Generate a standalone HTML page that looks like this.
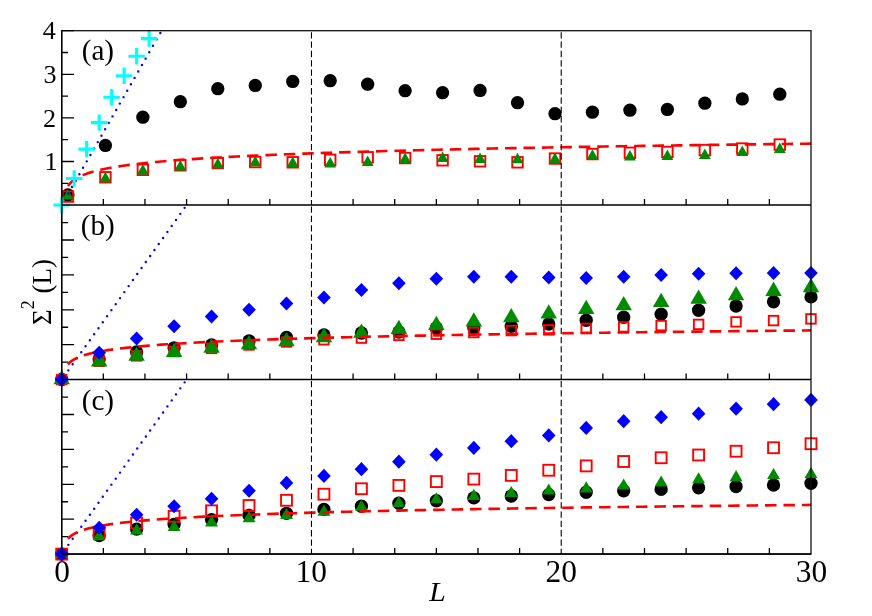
<!DOCTYPE html>
<html><head><meta charset="utf-8"><title>Sigma2(L)</title>
<style>html,body{margin:0;padding:0;background:#fff}body{width:872px;height:616px;overflow:hidden;font-family:"Liberation Serif",serif}svg{display:block}</style>
</head><body>
<svg width="872" height="616" viewBox="0 0 872 616">
<rect width="872" height="616" fill="#fff"/>
<g id="pa">
<circle cx="67.94" cy="194.95" r="6.65" fill="#000"/>
<circle cx="105.41" cy="145.45" r="6.65" fill="#000"/>
<circle cx="142.87" cy="117.2" r="6.65" fill="#000"/>
<circle cx="180.34" cy="101.7" r="6.65" fill="#000"/>
<circle cx="217.8" cy="88.7" r="6.65" fill="#000"/>
<circle cx="255.27" cy="85.45" r="6.65" fill="#000"/>
<circle cx="292.73" cy="81.45" r="6.65" fill="#000"/>
<circle cx="330.2" cy="80.7" r="6.65" fill="#000"/>
<circle cx="367.66" cy="84.2" r="6.65" fill="#000"/>
<circle cx="405.13" cy="90.7" r="6.65" fill="#000"/>
<circle cx="442.59" cy="92.7" r="6.65" fill="#000"/>
<circle cx="480.06" cy="90.45" r="6.65" fill="#000"/>
<circle cx="517.52" cy="102.7" r="6.65" fill="#000"/>
<circle cx="554.99" cy="113.7" r="6.65" fill="#000"/>
<circle cx="592.45" cy="112.2" r="6.65" fill="#000"/>
<circle cx="629.92" cy="110.2" r="6.65" fill="#000"/>
<circle cx="667.38" cy="109.45" r="6.65" fill="#000"/>
<circle cx="704.85" cy="103.2" r="6.65" fill="#000"/>
<circle cx="742.31" cy="98.95" r="6.65" fill="#000"/>
<circle cx="779.78" cy="94.2" r="6.65" fill="#000"/>
<rect x="62.69" y="191.35" width="10.5" height="10.5" fill="none" stroke="#f00" stroke-width="1.9"/>
<rect x="100.16" y="172.05" width="10.5" height="10.5" fill="none" stroke="#f00" stroke-width="1.9"/>
<rect x="137.62" y="164.55" width="10.5" height="10.5" fill="none" stroke="#f00" stroke-width="1.9"/>
<rect x="175.09" y="160.05" width="10.5" height="10.5" fill="none" stroke="#f00" stroke-width="1.9"/>
<rect x="212.55" y="157.8" width="10.5" height="10.5" fill="none" stroke="#f00" stroke-width="1.9"/>
<rect x="250.02" y="156.8" width="10.5" height="10.5" fill="none" stroke="#f00" stroke-width="1.9"/>
<rect x="287.48" y="157.05" width="10.5" height="10.5" fill="none" stroke="#f00" stroke-width="1.9"/>
<rect x="324.95" y="154.55" width="10.5" height="10.5" fill="none" stroke="#f00" stroke-width="1.9"/>
<rect x="362.41" y="152.05" width="10.5" height="10.5" fill="none" stroke="#f00" stroke-width="1.9"/>
<rect x="399.88" y="152.8" width="10.5" height="10.5" fill="none" stroke="#f00" stroke-width="1.9"/>
<rect x="437.34" y="155.05" width="10.5" height="10.5" fill="none" stroke="#f00" stroke-width="1.9"/>
<rect x="474.81" y="156.05" width="10.5" height="10.5" fill="none" stroke="#f00" stroke-width="1.9"/>
<rect x="512.27" y="157.05" width="10.5" height="10.5" fill="none" stroke="#f00" stroke-width="1.9"/>
<rect x="549.74" y="153.3" width="10.5" height="10.5" fill="none" stroke="#f00" stroke-width="1.9"/>
<rect x="587.2" y="148.8" width="10.5" height="10.5" fill="none" stroke="#f00" stroke-width="1.9"/>
<rect x="624.67" y="147.55" width="10.5" height="10.5" fill="none" stroke="#f00" stroke-width="1.9"/>
<rect x="662.13" y="146.75" width="10.5" height="10.5" fill="none" stroke="#f00" stroke-width="1.9"/>
<rect x="699.6" y="144.85" width="10.5" height="10.5" fill="none" stroke="#f00" stroke-width="1.9"/>
<rect x="737.06" y="143.3" width="10.5" height="10.5" fill="none" stroke="#f00" stroke-width="1.9"/>
<rect x="774.53" y="139.3" width="10.5" height="10.5" fill="none" stroke="#f00" stroke-width="1.9"/>
<path d="M67.94 189.2L73.84 199.6H62.04Z" fill="#008b00"/>
<path d="M105.41 171.8L111.31 182.2H99.51Z" fill="#008b00"/>
<path d="M142.87 164L148.77 174.4H136.97Z" fill="#008b00"/>
<path d="M180.34 160.1L186.24 170.5H174.44Z" fill="#008b00"/>
<path d="M217.8 157.85L223.7 168.25H211.9Z" fill="#008b00"/>
<path d="M255.27 155.85L261.17 166.25H249.37Z" fill="#008b00"/>
<path d="M292.73 156.6L298.63 167H286.83Z" fill="#008b00"/>
<path d="M330.2 157.1L336.1 167.5H324.3Z" fill="#008b00"/>
<path d="M367.66 155.6L373.56 166H361.76Z" fill="#008b00"/>
<path d="M405.13 152.6L411.03 163H399.23Z" fill="#008b00"/>
<path d="M442.59 151.6L448.49 162H436.69Z" fill="#008b00"/>
<path d="M480.06 152.6L485.96 163H474.16Z" fill="#008b00"/>
<path d="M517.52 152.85L523.42 163.25H511.62Z" fill="#008b00"/>
<path d="M554.99 152.6L560.89 163H549.09Z" fill="#008b00"/>
<path d="M592.45 149.35L598.35 159.75H586.55Z" fill="#008b00"/>
<path d="M629.92 150.1L635.82 160.5H624.02Z" fill="#008b00"/>
<path d="M667.38 149.6L673.28 160H661.48Z" fill="#008b00"/>
<path d="M704.85 148.6L710.75 159H698.95Z" fill="#008b00"/>
<path d="M742.31 145.6L748.21 156H736.41Z" fill="#008b00"/>
<path d="M779.78 142.6L785.68 153H773.88Z" fill="#008b00"/>
<path d="M68.36 193.47L161.61 30.7" fill="none" stroke="#00f" stroke-width="2.4" stroke-linecap="round" stroke-dasharray="0 7.4" stroke-dashoffset="0"/>
<path d="M67.94 185.95L69.19 184.34L70.44 182.98L71.69 181.8L72.94 180.76L74.19 179.83L75.44 178.99L76.69 178.22L77.93 177.51L79.18 176.86L80.43 176.25L81.68 175.68L82.93 175.14L84.18 174.64L85.43 174.16L86.68 173.71L87.93 173.28L89.17 172.87L90.42 172.47L91.67 172.1L92.92 171.74L94.17 171.39L95.42 171.06L96.67 170.74L97.92 170.43L99.17 170.13L100.41 169.84L101.66 169.56L102.91 169.28L104.16 169.02L105.41 168.76L106.66 168.52L107.91 168.27L109.16 168.04L110.4 167.81L111.65 167.59L112.9 167.37L114.15 167.15L115.4 166.95L116.65 166.74L117.9 166.54L119.15 166.35L120.4 166.16L121.64 165.97L122.89 165.79L124.14 165.61L125.39 165.44L126.64 165.27L127.89 165.1L129.14 164.93L130.39 164.77L131.63 164.61L132.88 164.46L134.13 164.3L135.38 164.15L136.63 164L142.87 163.3L149.12 162.64L155.36 162.03L161.61 161.46L167.85 160.93L174.09 160.42L180.34 159.94L186.58 159.49L192.83 159.06L199.07 158.65L205.32 158.26L211.56 157.88L217.8 157.52L224.05 157.17L230.29 156.84L236.54 156.52L242.78 156.21L249.02 155.91L255.27 155.62L261.51 155.34L267.76 155.07L274 154.8L280.25 154.55L286.49 154.3L292.73 154.06L298.98 153.82L305.22 153.59L311.47 153.37L317.71 153.15L323.95 152.94L330.2 152.73L336.44 152.53L342.69 152.33L348.93 152.13L355.18 151.94L361.42 151.76L367.66 151.58L373.91 151.4L380.15 151.22L386.4 151.05L392.64 150.88L398.88 150.72L405.13 150.56L411.37 150.4L417.62 150.24L423.86 150.09L430.11 149.94L436.35 149.79L442.59 149.64L448.84 149.5L455.08 149.36L461.33 149.22L467.57 149.08L473.81 148.94L480.06 148.81L486.3 148.68L492.55 148.55L498.79 148.43L505.04 148.3L511.28 148.18L517.52 148.05L523.77 147.93L530.01 147.82L536.26 147.7L542.5 147.58L548.75 147.47L554.99 147.36L561.23 147.25L567.48 147.14L573.72 147.03L579.97 146.92L586.21 146.81L592.45 146.71L598.7 146.61L604.94 146.5L611.19 146.4L617.43 146.3L623.68 146.21L629.92 146.11L636.16 146.01L642.41 145.92L648.65 145.82L654.9 145.73L661.14 145.64L667.38 145.54L673.63 145.45L679.87 145.36L686.12 145.27L692.36 145.19L698.61 145.1L704.85 145.01L711.09 144.93L717.34 144.84L723.58 144.76L729.83 144.68L736.07 144.59L742.31 144.51L748.56 144.43L754.8 144.35L761.05 144.27L767.29 144.19L773.54 144.12L779.78 144.04L786.02 143.96L792.27 143.89L798.51 143.81L804.76 143.74L811 143.66" fill="none" stroke="#f00" stroke-width="2.65" stroke-dasharray="11.5 6.94"/>
<path d="M53.5 205H69.9M61.7 196.8V213.2" stroke="#0ff" stroke-width="3.1" fill="none"/>
<path d="M65.99 178.5H82.39M74.19 170.3V186.7" stroke="#0ff" stroke-width="3.1" fill="none"/>
<path d="M78.48 149.1H94.88M86.68 140.9V157.3" stroke="#0ff" stroke-width="3.1" fill="none"/>
<path d="M90.97 122.6H107.37M99.17 114.4V130.8" stroke="#0ff" stroke-width="3.1" fill="none"/>
<path d="M103.45 97.2H119.85M111.65 89V105.4" stroke="#0ff" stroke-width="3.1" fill="none"/>
<path d="M115.94 75.8H132.34M124.14 67.6V84" stroke="#0ff" stroke-width="3.1" fill="none"/>
<path d="M128.43 56.2H144.83M136.63 48V64.4" stroke="#0ff" stroke-width="3.1" fill="none"/>
<path d="M140.92 38.6H157.32M149.12 30.4V46.8" stroke="#0ff" stroke-width="3.1" fill="none"/>
</g>
<g id="pb">
<circle cx="61.7" cy="379.5" r="6.65" fill="#000"/>
<circle cx="99.17" cy="359" r="6.65" fill="#000"/>
<circle cx="136.63" cy="352" r="6.65" fill="#000"/>
<circle cx="174.1" cy="347.8" r="6.65" fill="#000"/>
<circle cx="211.56" cy="345" r="6.65" fill="#000"/>
<circle cx="249.03" cy="341" r="6.65" fill="#000"/>
<circle cx="286.49" cy="337.4" r="6.65" fill="#000"/>
<circle cx="323.95" cy="335" r="6.65" fill="#000"/>
<circle cx="361.42" cy="333" r="6.65" fill="#000"/>
<circle cx="398.89" cy="332" r="6.65" fill="#000"/>
<circle cx="436.35" cy="328" r="6.65" fill="#000"/>
<circle cx="473.81" cy="327.75" r="6.65" fill="#000"/>
<circle cx="511.28" cy="326.25" r="6.65" fill="#000"/>
<circle cx="548.75" cy="324" r="6.65" fill="#000"/>
<circle cx="586.21" cy="320.25" r="6.65" fill="#000"/>
<circle cx="623.68" cy="317.25" r="6.65" fill="#000"/>
<circle cx="661.14" cy="314.25" r="6.65" fill="#000"/>
<circle cx="698.61" cy="310.25" r="6.65" fill="#000"/>
<circle cx="736.07" cy="306" r="6.65" fill="#000"/>
<circle cx="773.54" cy="301.75" r="6.65" fill="#000"/>
<circle cx="811" cy="296.9" r="6.65" fill="#000"/>
<rect x="56.95" y="374.85" width="9.5" height="9.5" fill="none" stroke="#f00" stroke-width="1.9"/>
<rect x="94.42" y="356.55" width="9.5" height="9.5" fill="none" stroke="#f00" stroke-width="1.9"/>
<rect x="131.88" y="351.15" width="9.5" height="9.5" fill="none" stroke="#f00" stroke-width="1.9"/>
<rect x="169.35" y="346.85" width="9.5" height="9.5" fill="none" stroke="#f00" stroke-width="1.9"/>
<rect x="206.81" y="343.65" width="9.5" height="9.5" fill="none" stroke="#f00" stroke-width="1.9"/>
<rect x="244.28" y="340.25" width="9.5" height="9.5" fill="none" stroke="#f00" stroke-width="1.9"/>
<rect x="281.74" y="337.25" width="9.5" height="9.5" fill="none" stroke="#f00" stroke-width="1.9"/>
<rect x="319.2" y="335.05" width="9.5" height="9.5" fill="none" stroke="#f00" stroke-width="1.9"/>
<rect x="356.67" y="333.35" width="9.5" height="9.5" fill="none" stroke="#f00" stroke-width="1.9"/>
<rect x="394.14" y="330.65" width="9.5" height="9.5" fill="none" stroke="#f00" stroke-width="1.9"/>
<rect x="431.6" y="329.5" width="9.5" height="9.5" fill="none" stroke="#f00" stroke-width="1.9"/>
<rect x="469.06" y="327.75" width="9.5" height="9.5" fill="none" stroke="#f00" stroke-width="1.9"/>
<rect x="506.53" y="325.85" width="9.5" height="9.5" fill="none" stroke="#f00" stroke-width="1.9"/>
<rect x="544" y="325.15" width="9.5" height="9.5" fill="none" stroke="#f00" stroke-width="1.9"/>
<rect x="581.46" y="323.65" width="9.5" height="9.5" fill="none" stroke="#f00" stroke-width="1.9"/>
<rect x="618.93" y="322.15" width="9.5" height="9.5" fill="none" stroke="#f00" stroke-width="1.9"/>
<rect x="656.39" y="320.85" width="9.5" height="9.5" fill="none" stroke="#f00" stroke-width="1.9"/>
<rect x="693.86" y="319.65" width="9.5" height="9.5" fill="none" stroke="#f00" stroke-width="1.9"/>
<rect x="731.32" y="317.15" width="9.5" height="9.5" fill="none" stroke="#f00" stroke-width="1.9"/>
<rect x="768.79" y="315.85" width="9.5" height="9.5" fill="none" stroke="#f00" stroke-width="1.9"/>
<rect x="806.25" y="314.15" width="9.5" height="9.5" fill="none" stroke="#f00" stroke-width="1.9"/>
<path d="M61.7 369.95L69.95 384.25H53.45Z" fill="#008b00"/>
<path d="M99.17 352.25L107.42 366.55H90.92Z" fill="#008b00"/>
<path d="M136.63 346.45L144.88 360.75H128.38Z" fill="#008b00"/>
<path d="M174.1 342.65L182.35 356.95H165.85Z" fill="#008b00"/>
<path d="M211.56 338.35L219.81 352.65H203.31Z" fill="#008b00"/>
<path d="M249.03 335.05L257.28 349.35H240.78Z" fill="#008b00"/>
<path d="M286.49 331.95L294.74 346.25H278.24Z" fill="#008b00"/>
<path d="M323.95 327.85L332.2 342.15H315.7Z" fill="#008b00"/>
<path d="M361.42 323.45L369.67 337.75H353.17Z" fill="#008b00"/>
<path d="M398.89 319.65L407.14 333.95H390.64Z" fill="#008b00"/>
<path d="M436.35 315.75L444.6 330.05H428.1Z" fill="#008b00"/>
<path d="M473.81 312.25L482.06 326.55H465.56Z" fill="#008b00"/>
<path d="M511.28 307.95L519.53 322.25H503.03Z" fill="#008b00"/>
<path d="M548.75 304.25L557 318.55H540.5Z" fill="#008b00"/>
<path d="M586.21 299.75L594.46 314.05H577.96Z" fill="#008b00"/>
<path d="M623.68 295.95L631.93 310.25H615.43Z" fill="#008b00"/>
<path d="M661.14 292.75L669.39 307.05H652.89Z" fill="#008b00"/>
<path d="M698.61 289.45L706.86 303.75H690.36Z" fill="#008b00"/>
<path d="M736.07 285.95L744.32 300.25H727.82Z" fill="#008b00"/>
<path d="M773.54 281.6L781.79 295.9H765.29Z" fill="#008b00"/>
<path d="M811 277.95L819.25 292.25H802.75Z" fill="#008b00"/>
<path d="M64.03 376.35L186.58 205.1" fill="none" stroke="#00f" stroke-width="2.4" stroke-linecap="round" stroke-dasharray="0 7.4" stroke-dashoffset="0"/>
<path d="M67.94 364.27L69.19 362.98L70.44 361.9L71.69 360.95L72.94 360.12L74.19 359.37L75.44 358.7L76.69 358.08L77.93 357.52L79.18 356.99L80.43 356.51L81.68 356.05L82.93 355.62L84.18 355.22L85.43 354.83L86.68 354.47L87.93 354.13L89.17 353.8L90.42 353.48L91.67 353.18L92.92 352.89L94.17 352.62L95.42 352.35L96.67 352.09L97.92 351.84L99.17 351.61L100.41 351.37L101.66 351.15L102.91 350.93L104.16 350.72L105.41 350.52L106.66 350.32L107.91 350.12L109.16 349.93L110.4 349.75L111.65 349.57L112.9 349.4L114.15 349.23L115.4 349.06L116.65 348.9L117.9 348.74L119.15 348.58L120.4 348.43L121.64 348.28L122.89 348.14L124.14 347.99L125.39 347.85L126.64 347.72L127.89 347.58L129.14 347.45L130.39 347.32L131.63 347.19L132.88 347.07L134.13 346.94L135.38 346.82L136.63 346.7L142.87 346.14L149.12 345.61L155.36 345.13L161.61 344.67L167.85 344.24L174.09 343.84L180.34 343.45L186.58 343.09L192.83 342.75L199.07 342.42L205.32 342.1L211.56 341.8L217.8 341.51L224.05 341.24L230.29 340.97L236.54 340.71L242.78 340.46L249.02 340.23L255.27 339.99L261.51 339.77L267.76 339.55L274 339.34L280.25 339.14L286.49 338.94L292.73 338.74L298.98 338.55L305.22 338.37L311.47 338.19L317.71 338.02L323.95 337.85L330.2 337.68L336.44 337.52L342.69 337.36L348.93 337.2L355.18 337.05L361.42 336.9L367.66 336.76L373.91 336.61L380.15 336.47L386.4 336.34L392.64 336.2L398.88 336.07L405.13 335.94L411.37 335.81L417.62 335.69L423.86 335.56L430.11 335.44L436.35 335.32L442.59 335.21L448.84 335.09L455.08 334.98L461.33 334.87L467.57 334.76L473.81 334.65L480.06 334.54L486.3 334.44L492.55 334.34L498.79 334.23L505.04 334.13L511.28 334.03L517.52 333.94L523.77 333.84L530.01 333.75L536.26 333.65L542.5 333.56L548.75 333.47L554.99 333.38L561.23 333.29L567.48 333.2L573.72 333.12L579.97 333.03L586.21 332.94L592.45 332.86L598.7 332.78L604.94 332.7L611.19 332.62L617.43 332.54L623.68 332.46L629.92 332.38L636.16 332.3L642.41 332.23L648.65 332.15L654.9 332.07L661.14 332L667.38 331.93L673.63 331.86L679.87 331.78L686.12 331.71L692.36 331.64L698.61 331.57L704.85 331.5L711.09 331.43L717.34 331.37L723.58 331.3L729.83 331.23L736.07 331.17L742.31 331.1L748.56 331.04L754.8 330.97L761.05 330.91L767.29 330.85L773.54 330.79L779.78 330.72L786.02 330.66L792.27 330.6L798.51 330.54L804.76 330.48L811 330.42" fill="none" stroke="#f00" stroke-width="2.65" stroke-dasharray="11.5 6.94"/>
<path d="M99.17 345.7L105.97 352.75L99.17 359.8L92.37 352.75Z" fill="#00f"/>
<path d="M136.63 331.4L143.43 338.45L136.63 345.5L129.83 338.45Z" fill="#00f"/>
<path d="M174.1 319.15L180.9 326.2L174.1 333.25L167.3 326.2Z" fill="#00f"/>
<path d="M211.56 309.4L218.36 316.45L211.56 323.5L204.76 316.45Z" fill="#00f"/>
<path d="M249.03 302.65L255.83 309.7L249.03 316.75L242.23 309.7Z" fill="#00f"/>
<path d="M286.49 296.4L293.29 303.45L286.49 310.5L279.69 303.45Z" fill="#00f"/>
<path d="M323.95 290.4L330.75 297.45L323.95 304.5L317.15 297.45Z" fill="#00f"/>
<path d="M361.42 282.9L368.22 289.95L361.42 297L354.62 289.95Z" fill="#00f"/>
<path d="M398.89 276.15L405.69 283.2L398.89 290.25L392.09 283.2Z" fill="#00f"/>
<path d="M436.35 271.65L443.15 278.7L436.35 285.75L429.55 278.7Z" fill="#00f"/>
<path d="M473.81 269.65L480.62 276.7L473.81 283.75L467.01 276.7Z" fill="#00f"/>
<path d="M511.28 269.65L518.08 276.7L511.28 283.75L504.48 276.7Z" fill="#00f"/>
<path d="M548.75 270.4L555.55 277.45L548.75 284.5L541.95 277.45Z" fill="#00f"/>
<path d="M586.21 270.9L593.01 277.95L586.21 285L579.41 277.95Z" fill="#00f"/>
<path d="M623.68 269.65L630.48 276.7L623.68 283.75L616.88 276.7Z" fill="#00f"/>
<path d="M661.14 267.9L667.94 274.95L661.14 282L654.34 274.95Z" fill="#00f"/>
<path d="M698.61 266.65L705.41 273.7L698.61 280.75L691.81 273.7Z" fill="#00f"/>
<path d="M736.07 266.15L742.87 273.2L736.07 280.25L729.27 273.2Z" fill="#00f"/>
<path d="M773.54 265.9L780.34 272.95L773.54 280L766.74 272.95Z" fill="#00f"/>
<path d="M811 265.9L817.8 272.95L811 280L804.2 272.95Z" fill="#00f"/>
<path d="M61.7 372.45L68.5 379.5L61.7 386.55L54.9 379.5Z" fill="#00f"/>
</g>
<g id="pc">
<circle cx="61.7" cy="554.1" r="6.65" fill="#000"/>
<circle cx="99.17" cy="535.5" r="6.65" fill="#000"/>
<circle cx="136.63" cy="529.1" r="6.65" fill="#000"/>
<circle cx="174.1" cy="524.3" r="6.65" fill="#000"/>
<circle cx="211.56" cy="519.6" r="6.65" fill="#000"/>
<circle cx="249.03" cy="515.3" r="6.65" fill="#000"/>
<circle cx="286.49" cy="513.3" r="6.65" fill="#000"/>
<circle cx="323.95" cy="509.4" r="6.65" fill="#000"/>
<circle cx="361.42" cy="506.25" r="6.65" fill="#000"/>
<circle cx="398.89" cy="503.25" r="6.65" fill="#000"/>
<circle cx="436.35" cy="500.75" r="6.65" fill="#000"/>
<circle cx="473.81" cy="497.9" r="6.65" fill="#000"/>
<circle cx="511.28" cy="496" r="6.65" fill="#000"/>
<circle cx="548.75" cy="494.6" r="6.65" fill="#000"/>
<circle cx="586.21" cy="492.25" r="6.65" fill="#000"/>
<circle cx="623.68" cy="490.75" r="6.65" fill="#000"/>
<circle cx="661.14" cy="489.4" r="6.65" fill="#000"/>
<circle cx="698.61" cy="487.75" r="6.65" fill="#000"/>
<circle cx="736.07" cy="486.5" r="6.65" fill="#000"/>
<circle cx="773.54" cy="485" r="6.65" fill="#000"/>
<circle cx="811" cy="483.25" r="6.65" fill="#000"/>
<rect x="56.25" y="548.65" width="10.9" height="10.9" fill="none" stroke="#f00" stroke-width="1.9"/>
<rect x="93.72" y="527.05" width="10.9" height="10.9" fill="none" stroke="#f00" stroke-width="1.9"/>
<rect x="131.18" y="517.55" width="10.9" height="10.9" fill="none" stroke="#f00" stroke-width="1.9"/>
<rect x="168.65" y="510.85" width="10.9" height="10.9" fill="none" stroke="#f00" stroke-width="1.9"/>
<rect x="206.11" y="505.35" width="10.9" height="10.9" fill="none" stroke="#f00" stroke-width="1.9"/>
<rect x="243.58" y="500.05" width="10.9" height="10.9" fill="none" stroke="#f00" stroke-width="1.9"/>
<rect x="281.04" y="494.85" width="10.9" height="10.9" fill="none" stroke="#f00" stroke-width="1.9"/>
<rect x="318.5" y="488.75" width="10.9" height="10.9" fill="none" stroke="#f00" stroke-width="1.9"/>
<rect x="355.97" y="483.3" width="10.9" height="10.9" fill="none" stroke="#f00" stroke-width="1.9"/>
<rect x="393.44" y="479.95" width="10.9" height="10.9" fill="none" stroke="#f00" stroke-width="1.9"/>
<rect x="430.9" y="476.15" width="10.9" height="10.9" fill="none" stroke="#f00" stroke-width="1.9"/>
<rect x="468.37" y="473.65" width="10.9" height="10.9" fill="none" stroke="#f00" stroke-width="1.9"/>
<rect x="505.83" y="469.95" width="10.9" height="10.9" fill="none" stroke="#f00" stroke-width="1.9"/>
<rect x="543.3" y="464.8" width="10.9" height="10.9" fill="none" stroke="#f00" stroke-width="1.9"/>
<rect x="580.76" y="460.45" width="10.9" height="10.9" fill="none" stroke="#f00" stroke-width="1.9"/>
<rect x="618.23" y="456.05" width="10.9" height="10.9" fill="none" stroke="#f00" stroke-width="1.9"/>
<rect x="655.69" y="452.3" width="10.9" height="10.9" fill="none" stroke="#f00" stroke-width="1.9"/>
<rect x="693.16" y="449.55" width="10.9" height="10.9" fill="none" stroke="#f00" stroke-width="1.9"/>
<rect x="730.62" y="445.8" width="10.9" height="10.9" fill="none" stroke="#f00" stroke-width="1.9"/>
<rect x="768.09" y="442.3" width="10.9" height="10.9" fill="none" stroke="#f00" stroke-width="1.9"/>
<rect x="805.55" y="438.3" width="10.9" height="10.9" fill="none" stroke="#f00" stroke-width="1.9"/>
<path d="M61.7 546.7L68.15 557.9H55.25Z" fill="#008b00"/>
<path d="M99.17 529.1L105.62 540.3H92.72Z" fill="#008b00"/>
<path d="M136.63 523.3L143.08 534.5H130.18Z" fill="#008b00"/>
<path d="M174.1 519.7L180.55 530.9H167.65Z" fill="#008b00"/>
<path d="M211.56 515.3L218.01 526.5H205.11Z" fill="#008b00"/>
<path d="M249.03 511.1L255.48 522.3H242.58Z" fill="#008b00"/>
<path d="M286.49 507.9L292.94 519.1H280.04Z" fill="#008b00"/>
<path d="M323.95 504.5L330.4 515.7H317.5Z" fill="#008b00"/>
<path d="M361.42 499.65L367.87 510.85H354.97Z" fill="#008b00"/>
<path d="M398.89 495.9L405.34 507.1H392.44Z" fill="#008b00"/>
<path d="M436.35 492.15L442.8 503.35H429.9Z" fill="#008b00"/>
<path d="M473.81 488.8L480.26 500H467.37Z" fill="#008b00"/>
<path d="M511.28 485.9L517.73 497.1H504.83Z" fill="#008b00"/>
<path d="M548.75 483.4L555.2 494.6H542.3Z" fill="#008b00"/>
<path d="M586.21 481.3L592.66 492.5H579.76Z" fill="#008b00"/>
<path d="M623.68 478.4L630.13 489.6H617.23Z" fill="#008b00"/>
<path d="M661.14 475.4L667.59 486.6H654.69Z" fill="#008b00"/>
<path d="M698.61 472.15L705.06 483.35H692.16Z" fill="#008b00"/>
<path d="M736.07 470L742.52 481.2H729.62Z" fill="#008b00"/>
<path d="M773.54 467.9L779.99 479.1H767.09Z" fill="#008b00"/>
<path d="M811 466.9L817.45 478.1H804.55Z" fill="#008b00"/>
<path d="M64.03 550.85L186.58 379.6" fill="none" stroke="#00f" stroke-width="2.4" stroke-linecap="round" stroke-dasharray="0 7.4" stroke-dashoffset="0"/>
<path d="M67.94 538.77L69.19 537.48L70.44 536.4L71.69 535.45L72.94 534.62L74.19 533.87L75.44 533.2L76.69 532.58L77.93 532.02L79.18 531.49L80.43 531.01L81.68 530.55L82.93 530.12L84.18 529.72L85.43 529.33L86.68 528.97L87.93 528.63L89.17 528.3L90.42 527.98L91.67 527.68L92.92 527.39L94.17 527.12L95.42 526.85L96.67 526.59L97.92 526.34L99.17 526.11L100.41 525.87L101.66 525.65L102.91 525.43L104.16 525.22L105.41 525.02L106.66 524.82L107.91 524.62L109.16 524.43L110.4 524.25L111.65 524.07L112.9 523.9L114.15 523.73L115.4 523.56L116.65 523.4L117.9 523.24L119.15 523.08L120.4 522.93L121.64 522.78L122.89 522.64L124.14 522.49L125.39 522.35L126.64 522.22L127.89 522.08L129.14 521.95L130.39 521.82L131.63 521.69L132.88 521.57L134.13 521.44L135.38 521.32L136.63 521.2L142.87 520.64L149.12 520.11L155.36 519.63L161.61 519.17L167.85 518.74L174.09 518.34L180.34 517.95L186.58 517.59L192.83 517.25L199.07 516.92L205.32 516.6L211.56 516.3L217.8 516.01L224.05 515.74L230.29 515.47L236.54 515.21L242.78 514.96L249.02 514.73L255.27 514.49L261.51 514.27L267.76 514.05L274 513.84L280.25 513.64L286.49 513.44L292.73 513.24L298.98 513.05L305.22 512.87L311.47 512.69L317.71 512.52L323.95 512.35L330.2 512.18L336.44 512.02L342.69 511.86L348.93 511.7L355.18 511.55L361.42 511.4L367.66 511.26L373.91 511.11L380.15 510.97L386.4 510.84L392.64 510.7L398.88 510.57L405.13 510.44L411.37 510.31L417.62 510.19L423.86 510.06L430.11 509.94L436.35 509.82L442.59 509.71L448.84 509.59L455.08 509.48L461.33 509.37L467.57 509.26L473.81 509.15L480.06 509.04L486.3 508.94L492.55 508.84L498.79 508.73L505.04 508.63L511.28 508.53L517.52 508.44L523.77 508.34L530.01 508.25L536.26 508.15L542.5 508.06L548.75 507.97L554.99 507.88L561.23 507.79L567.48 507.7L573.72 507.62L579.97 507.53L586.21 507.44L592.45 507.36L598.7 507.28L604.94 507.2L611.19 507.12L617.43 507.04L623.68 506.96L629.92 506.88L636.16 506.8L642.41 506.73L648.65 506.65L654.9 506.57L661.14 506.5L667.38 506.43L673.63 506.36L679.87 506.28L686.12 506.21L692.36 506.14L698.61 506.07L704.85 506L711.09 505.93L717.34 505.87L723.58 505.8L729.83 505.73L736.07 505.67L742.31 505.6L748.56 505.54L754.8 505.47L761.05 505.41L767.29 505.35L773.54 505.29L779.78 505.22L786.02 505.16L792.27 505.1L798.51 505.04L804.76 504.98L811 504.92" fill="none" stroke="#f00" stroke-width="2.65" stroke-dasharray="11.5 6.94"/>
<path d="M99.17 520.65L105.97 527.7L99.17 534.75L92.37 527.7Z" fill="#00f"/>
<path d="M136.63 507.75L143.43 514.8L136.63 521.85L129.83 514.8Z" fill="#00f"/>
<path d="M174.1 499.25L180.9 506.3L174.1 513.35L167.3 506.3Z" fill="#00f"/>
<path d="M211.56 491.65L218.36 498.7L211.56 505.75L204.76 498.7Z" fill="#00f"/>
<path d="M249.03 483.65L255.83 490.7L249.03 497.75L242.23 490.7Z" fill="#00f"/>
<path d="M286.49 475.85L293.29 482.9L286.49 489.95L279.69 482.9Z" fill="#00f"/>
<path d="M323.95 468.85L330.75 475.9L323.95 482.95L317.15 475.9Z" fill="#00f"/>
<path d="M361.42 462.1L368.22 469.15L361.42 476.2L354.62 469.15Z" fill="#00f"/>
<path d="M398.89 454.6L405.69 461.65L398.89 468.7L392.09 461.65Z" fill="#00f"/>
<path d="M436.35 447.6L443.15 454.65L436.35 461.7L429.55 454.65Z" fill="#00f"/>
<path d="M473.81 440.85L480.62 447.9L473.81 454.95L467.01 447.9Z" fill="#00f"/>
<path d="M511.28 434.1L518.08 441.15L511.28 448.2L504.48 441.15Z" fill="#00f"/>
<path d="M548.75 428.35L555.55 435.4L548.75 442.45L541.95 435.4Z" fill="#00f"/>
<path d="M586.21 420.85L593.01 427.9L586.21 434.95L579.41 427.9Z" fill="#00f"/>
<path d="M623.68 414.1L630.48 421.15L623.68 428.2L616.88 421.15Z" fill="#00f"/>
<path d="M661.14 410.1L667.94 417.15L661.14 424.2L654.34 417.15Z" fill="#00f"/>
<path d="M698.61 406.6L705.41 413.65L698.61 420.7L691.81 413.65Z" fill="#00f"/>
<path d="M736.07 401.6L742.87 408.65L736.07 415.7L729.27 408.65Z" fill="#00f"/>
<path d="M773.54 397.1L780.34 404.15L773.54 411.2L766.74 404.15Z" fill="#00f"/>
<path d="M811 392.85L817.8 399.9L811 406.95L804.2 399.9Z" fill="#00f"/>
<path d="M61.7 547.05L68.5 554.1L61.7 561.15L54.9 554.1Z" fill="#00f"/>
</g>
<g stroke="#000" stroke-width="1.3" fill="none">
<rect x="61.7" y="30.7" width="749.3" height="523.4" stroke-width="1.3" stroke="#111"/>
<path d="M61.7 30.7V554.1" stroke-width="1.35"/>
<path d="M61.7 205.1H811.0M61.7 379.6H811.0M61.7 554.1H811.0" stroke-width="1.5"/>
<path d="M103.33 205.1v-6.0M144.96 205.1v-6.0M186.58 205.1v-6.0M228.21 205.1v-6.0M269.84 205.1v-6.0M353.09 205.1v-6.0M394.72 205.1v-6.0M436.35 205.1v-6.0M477.98 205.1v-6.0M519.61 205.1v-6.0M602.86 205.1v-6.0M644.49 205.1v-6.0M686.12 205.1v-6.0M727.74 205.1v-6.0M769.37 205.1v-6.0M103.33 379.6v-6.0M144.96 379.6v-6.0M186.58 379.6v-6.0M228.21 379.6v-6.0M269.84 379.6v-6.0M353.09 379.6v-6.0M394.72 379.6v-6.0M436.35 379.6v-6.0M477.98 379.6v-6.0M519.61 379.6v-6.0M602.86 379.6v-6.0M644.49 379.6v-6.0M686.12 379.6v-6.0M727.74 379.6v-6.0M769.37 379.6v-6.0M103.33 554.1v-6.0M144.96 554.1v-6.0M186.58 554.1v-6.0M228.21 554.1v-6.0M269.84 554.1v-6.0M353.09 554.1v-6.0M394.72 554.1v-6.0M436.35 554.1v-6.0M477.98 554.1v-6.0M519.61 554.1v-6.0M602.86 554.1v-6.0M644.49 554.1v-6.0M686.12 554.1v-6.0M727.74 554.1v-6.0M769.37 554.1v-6.0"/>
<path d="M61.7 183.3h6.4M61.7 161.5h12.4M61.7 139.7h6.4M61.7 117.9h12.4M61.7 96.1h6.4M61.7 74.3h12.4M61.7 52.5h6.4M61.7 30.7h12.4M61.7 362.15h6.4M61.7 344.7h12.4M61.7 327.25h6.4M61.7 309.8h12.4M61.7 292.35h6.4M61.7 274.9h12.4M61.7 257.45h6.4M61.7 240h12.4M61.7 222.55h6.4M61.7 536.65h6.4M61.7 519.2h12.4M61.7 501.75h6.4M61.7 484.3h12.4M61.7 466.85h6.4M61.7 449.4h12.4M61.7 431.95h6.4M61.7 414.5h12.4M61.7 397.05h6.4"/>
</g>
<path d="M311.47 32.2V205.1" stroke="#000" stroke-width="1.1" stroke-dasharray="6.3 3.02" fill="none"/>
<path d="M311.47 206.5V379.6" stroke="#000" stroke-width="1.1" stroke-dasharray="6.3 3.02" fill="none"/>
<path d="M311.47 381.0V554.1" stroke="#000" stroke-width="1.1" stroke-dasharray="6.3 3.02" fill="none"/>
<path d="M561.23 32.2V205.1" stroke="#000" stroke-width="1.1" stroke-dasharray="6.3 3.02" fill="none"/>
<path d="M561.23 206.5V379.6" stroke="#000" stroke-width="1.1" stroke-dasharray="6.3 3.02" fill="none"/>
<path d="M561.23 381.0V554.1" stroke="#000" stroke-width="1.1" stroke-dasharray="6.3 3.02" fill="none"/>
<g font-family="'Liberation Serif', serif" fill="#000" opacity="0.999">
<text transform="translate(55.7 39.4) scale(1.02 1)" font-size="25.6" text-anchor="end">4</text>
<text transform="translate(56.6 83) scale(1.02 1)" font-size="25.6" text-anchor="end">3</text>
<text transform="translate(56.1 126.6) scale(1.02 1)" font-size="25.6" text-anchor="end">2</text>
<text transform="translate(57.6 170.2) scale(1.02 1)" font-size="25.6" text-anchor="end">1</text>
<text x="62" y="581.8" font-size="31.4" text-anchor="middle">0</text>
<text x="311.27" y="581.8" font-size="31.4" text-anchor="middle">10</text>
<text x="561.23" y="581.8" font-size="31.4" text-anchor="middle">20</text>
<text x="811.5" y="581.8" font-size="31.4" text-anchor="middle">30</text>
<text transform="translate(437.4 600.7) scale(1.1 1)" font-size="27" font-style="italic" text-anchor="middle">L</text>
<text x="81.7" y="59.6" font-size="29.2">(a)</text>
<text x="80.8" y="234.5" font-size="29.2">(b)</text>
<text x="81.7" y="409.9" font-size="29.2">(c)</text>
<text transform="translate(51.3 325) rotate(-90)" font-size="27">Σ<tspan font-size="18" dy="-17">2</tspan><tspan dy="17"> (L)</tspan></text>
</g>
</svg>
</body></html>
